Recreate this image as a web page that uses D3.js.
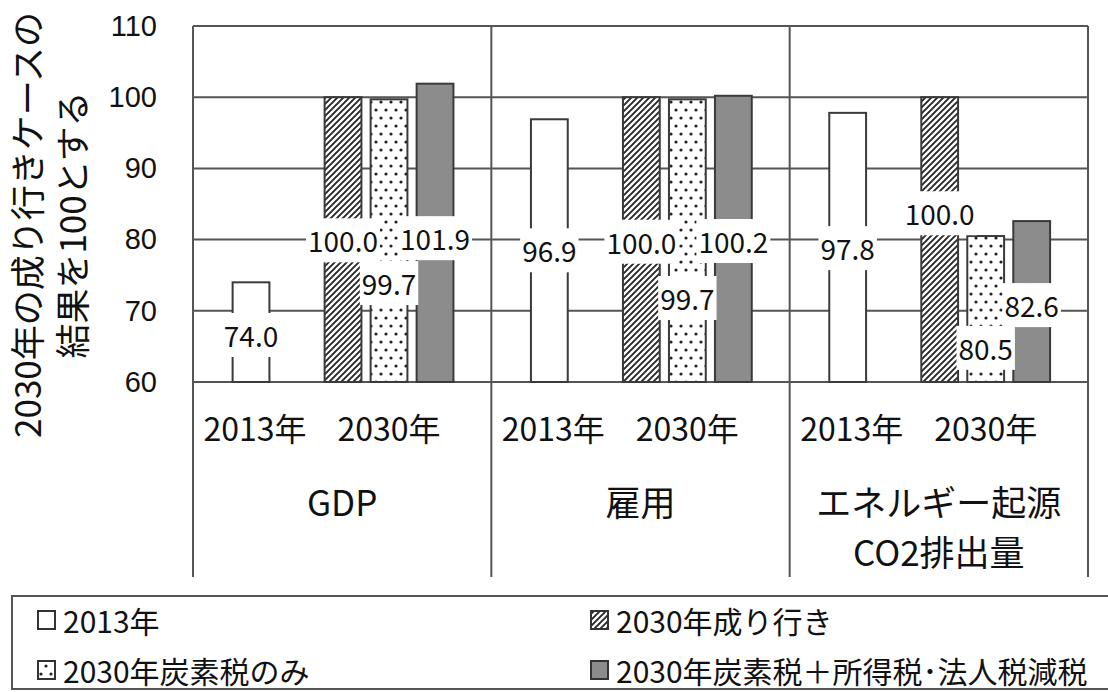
<!DOCTYPE html>
<html>
<head>
<meta charset="utf-8">
<script src="https://cdn.jsdelivr.net/npm/d3@7"></script>
<style>
  body { margin: 0; background: #fff; }
  text { font-family: "Noto Sans CJK JP", "Noto Sans", sans-serif; fill: #111; font-weight: normal; }
</style>
</head>
<body>
<svg id="ch" width="1108" height="692"></svg>
<script>
var groups = ["GDP", "雇用", "エネルギー起源|CO2排出量"];
var yearLabels = ["2013年", "2030年"];
var seriesNames = ["2013年", "2030年成り行き", "2030年炭素税のみ", "2030年炭素税＋所得税･法人税減税"];
var val2013 = [74.0, 96.9, 97.8];
var valBau = [100.0, 100.0, 100.0];
var valTax = [99.7, 99.7, 80.5];
var valTaxCut = [101.9, 100.2, 82.6];
// where each data label sits, in axis units
var lab2013 = [66.6, 78.5, 78.8];
var labBau = [79.9, 79.7, 83.7];
var labTax = [73.9, 71.8, 64.8];
var labTaxCut = [80.2, 79.8, 70.8];
var yTicks = [60, 70, 80, 90, 100, 110];

var margin = {top: 26, right: 20, bottom: 310, left: 193},
    width  = 1088 - margin.left,
    height = 382 - margin.top;

var svg = d3.select("#ch");
var defs = svg.append("defs");

var hatch = defs.append("pattern").attr("id", "hatch")
    .attr("patternUnits", "userSpaceOnUse").attr("width", 6).attr("height", 6);
hatch.append("rect").attr("width", 6).attr("height", 6).attr("fill", "#fff");
hatch.append("path").attr("d", "M-1,1 l2,-2 M0,6 l6,-6 M5,7 l2,-2")
    .attr("stroke", "#262626").attr("stroke-width", 1.9);

var dots = defs.append("pattern").attr("id", "dots")
    .attr("patternUnits", "userSpaceOnUse").attr("width", 10).attr("height", 16);
dots.append("rect").attr("width", 10).attr("height", 16).attr("fill", "#fff");
dots.append("circle").attr("cx", 3).attr("cy", 4).attr("r", 1.6).attr("fill", "#222");
dots.append("circle").attr("cx", 8).attr("cy", 12).attr("r", 1.6).attr("fill", "#222");

var fills = ["#fff", "url(#hatch)", "url(#dots)", "#8c8c8c"];

var g = svg.append("g").attr("transform", "translate(" + margin.left + "," + margin.top + ")");

var x = d3.scaleBand().domain(groups).range([0, width]).padding(0);
var slots = ["s0", "gap", "s1", "s2", "s3"];
var xs = d3.scaleBand().domain(slots).range([0, x.bandwidth()])
    .paddingInner(0.2).paddingOuter(0.8425).align(0.511);
var y = d3.scaleLinear().domain([60, 110]).range([height, 0]);

// gridlines
g.selectAll(".grid").data(yTicks).enter().append("line")
    .attr("x1", 0).attr("x2", width)
    .attr("y1", function (d) { return y(d); }).attr("y2", function (d) { return y(d); })
    .attr("stroke", "#555").attr("stroke-width", 2);

// y axis labels
var yAxis = d3.axisLeft(y).tickValues(yTicks).tickSize(0).tickPadding(36);
var ya = g.append("g").call(yAxis);
ya.select(".domain").remove();
ya.selectAll("text").style("font-family", "'Liberation Sans', Arial, sans-serif")
    .style("font-size", "29px").attr("fill", "#111");

var table = [];
var cols = [val2013, valBau, valTax, valTaxCut];
var labs = [lab2013, labBau, labTax, labTaxCut];
var slotOf = ["s0", "s1", "s2", "s3"];
groups.forEach(function (grp, i) {
    for (var s = 0; s < 4; s++) {
        table.push({group: grp, s: s, value: cols[s][i], lab: labs[s][i]});
    }
});

g.selectAll(".bar").data(table).enter().append("rect")
    .attr("class", "bar")
    .attr("x", function (d) { return x(d.group) + xs(slotOf[d.s]); })
    .attr("width", xs.bandwidth())
    .attr("y", function (d) { return y(d.value); })
    .attr("height", function (d) { return y(60) - y(d.value); })
    .attr("fill", function (d) { return fills[d.s]; })
    .attr("stroke", "#3a3a3a").attr("stroke-width", 2);

// data labels with white boxes
var lg = g.selectAll(".lab").data(table).enter().append("g").attr("class", "lab");
lg.append("text")
    .attr("x", function (d) { return x(d.group) + xs(slotOf[d.s]) + xs.bandwidth() / 2; })
    .attr("y", function (d) { return y(d.lab); })
    .attr("text-anchor", "middle").attr("dominant-baseline", "central")
    .style("font-size", "28px")
    .text(function (d) { return d.value.toFixed(1); });
lg.each(function () {
    var t = d3.select(this).select("text"), b = t.node().getBBox();
    d3.select(this).insert("rect", "text")
        .attr("x", b.x - 2).attr("y", b.y - 2).attr("width", b.width + 4).attr("height", b.height + 4)
        .attr("fill", "#fff");
});

// frame
g.append("line").attr("x1", 0).attr("x2", width).attr("y1", 0).attr("y2", 0)
    .attr("stroke", "#555").attr("stroke-width", 2);
var seps = [0, width / 3, 2 * width / 3, width];
g.selectAll(".sep").data(seps).enter().append("line")
    .attr("x1", function (d) { return d; }).attr("x2", function (d) { return d; })
    .attr("y1", 0).attr("y2", 577 - margin.top)
    .attr("stroke", "#555").attr("stroke-width", 2);

// category labels
groups.forEach(function (grp) {
    var subX = [x(grp) + xs("s0") + xs.bandwidth() / 2 + 4, x(grp) + xs("s2") + xs.bandwidth() / 2];
    yearLabels.forEach(function (yl, k) {
        g.append("text").attr("x", subX[k]).attr("y", 427 - margin.top)
            .attr("text-anchor", "middle").attr("dominant-baseline", "central")
            .style("font-size", "32px").text(yl);
    });
    grp.split("|").forEach(function (ln, k) {
        g.append("text").attr("x", x(grp) + x.bandwidth() / 2).attr("y", 500 - margin.top + k * 50)
            .attr("text-anchor", "middle").attr("dominant-baseline", "central")
            .style("font-size", "35px").text(ln);
    });
});

// y title
var titleLines = ["2030年の成り行きケースの", "結果を100とする"];
var tx = [25, 70];
titleLines.forEach(function (t, k) {
    svg.append("text").attr("transform", "translate(" + tx[k] + ",225) rotate(-90)")
        .attr("text-anchor", "middle").attr("dominant-baseline", "central")
        .style("font-size", "35px").text(t);
});

// legend
svg.append("rect").attr("x", 12).attr("y", 596).attr("width", 1120).attr("height", 93)
    .attr("fill", "none").attr("stroke", "#555").attr("stroke-width", 2);
var legX = [38, 591], legY = [620, 670];
var leg = svg.selectAll(".leg").data(seriesNames).enter().append("g")
    .attr("transform", function (d, i) { return "translate(" + legX[i % 2] + "," + legY[Math.floor(i / 2)] + ")"; });
leg.append("rect").attr("x", 0).attr("y", -9).attr("width", 17).attr("height", 18)
    .attr("fill", function (d, i) { return fills[i]; })
    .attr("stroke", "#333").attr("stroke-width", 2);
leg.append("text").attr("x", 25).attr("y", 0).attr("dominant-baseline", "central")
    .style("font-size", "30px").text(function (d) { return d; });
</script>
</body>
</html>
